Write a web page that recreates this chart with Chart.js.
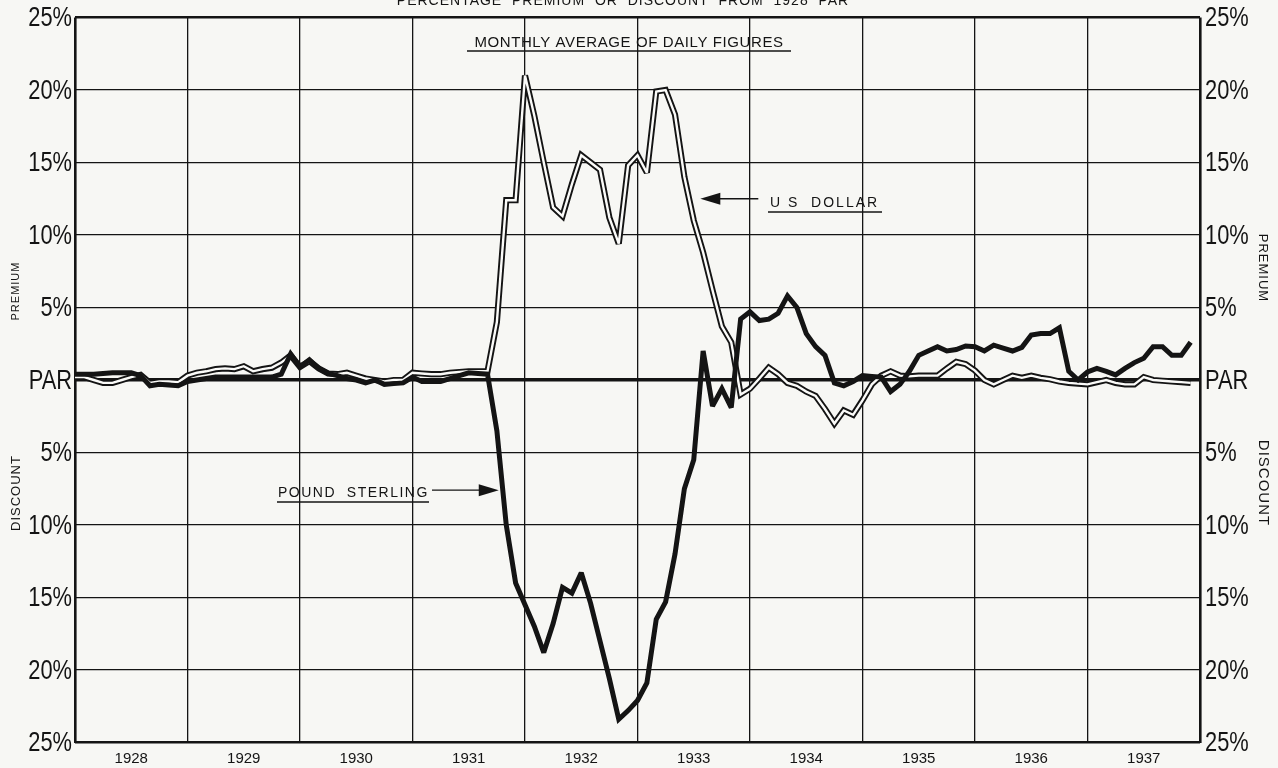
<!DOCTYPE html>
<html>
<head>
<meta charset="utf-8">
<script src="https://cdn.jsdelivr.net/npm/chart.js@4/dist/chart.umd.min.js"></script>
<style>
  html,body{margin:0;padding:0;background:#f7f7f4;}
  #wrap{position:relative;width:1278px;height:768px;}
</style>
</head>
<body>
<div id="wrap"><canvas id="c"></canvas></div>
<script>
// ---- DATA (monthly averages, Jan 1928 .. Dec 1937) ----
const years = ['1928','1929','1930','1931','1932','1933','1934','1935','1936','1937'];
const yTicks = [-25,-20,-15,-10,-5,0,5,10,15,20,25];

const poundSterling = [
  0.4, 0.4, 0.4, 0.45, 0.5, 0.5, 0.5, 0.3, -0.4, -0.3, -0.35, -0.4,
  -0.1, 0.0, 0.1, 0.2, 0.2, 0.2, 0.2, 0.2, 0.2, 0.2, 0.4, 1.8,
  0.9, 1.4, 0.8, 0.45, 0.3, 0.1, 0.0, -0.2, 0.0, -0.3, -0.25, -0.2,
  0.2, -0.1, -0.1, -0.1, 0.1, 0.3, 0.5, 0.45, 0.4, -3.5, -10.0, -14.0,
  -15.5, -17.0, -18.8, -16.8, -14.3, -14.7, -13.3, -15.4, -18.0, -20.6, -23.4, -22.8,
  -22.1, -20.9, -16.5, -15.3, -12.0, -7.5, -5.5, 2.0, -1.8, -0.6, -1.9, 4.2,
  4.7, 4.1, 4.2, 4.6, 5.8, 5.0, 3.2, 2.3, 1.7, -0.2, -0.4, -0.1,
  0.3, 0.25, 0.2, -0.8, -0.3, 0.6, 1.7, 2.0, 2.3, 2.0, 2.1, 2.35,
  2.3, 2.0, 2.4, 2.2, 2.0, 2.25, 3.1, 3.2, 3.2, 3.6, 0.6, 0.0,
  0.55, 0.8, 0.6, 0.35, 0.8, 1.2, 1.5, 2.3, 2.3, 1.7, 1.7, 2.6
];

const usDollar = [
  0.2, 0.2, 0.0, -0.2, -0.2, 0.0, 0.2, 0.35, -0.2, -0.1, -0.1, -0.15,
  0.3, 0.5, 0.6, 0.75, 0.8, 0.75, 0.95, 0.6, 0.75, 0.85, 1.2, 1.7,
  0.9, 1.3, 0.8, 0.45, 0.4, 0.5, 0.3, 0.1, 0.0, -0.1, 0.0, 0.0,
  0.5, 0.45, 0.4, 0.4, 0.5, 0.55, 0.6, 0.6, 0.6, 4.0, 12.4, 12.4,
  21.0, 18.2, 15.0, 11.9, 11.3, 13.5, 15.5, 15.0, 14.5, 11.2, 9.4, 14.8,
  15.5, 14.3, 19.9, 20.0, 18.3, 14.0, 11.0, 8.8, 6.2, 3.7, 2.6, -1.0,
  -0.6, 0.1, 0.85, 0.4, -0.2, -0.4, -0.8, -1.1, -2.0, -3.0, -2.1, -2.4,
  -1.4, -0.3, 0.3, 0.6, 0.3, 0.25, 0.3, 0.3, 0.3, 0.8, 1.25, 1.1,
  0.65, 0.0, -0.3, 0.0, 0.3, 0.15, 0.3, 0.15, 0.05, -0.1, -0.2, -0.25,
  -0.3, -0.15, 0.0, -0.2, -0.3, -0.3, 0.2, 0.0, -0.05, -0.1, -0.15, -0.2
];

// ---- STYLE ----
const BG = '#f7f7f4';
const INK = '#141414';
const SANS = '"Liberation Sans", "DejaVu Sans", Arial, sans-serif';

const toXY = arr => arr.map((v, i) => ({x: i, y: v}));
const yearCenters = years.map((y, k) => 6 + 12 * k);
const yLabel = v => (v === 0 ? 'PAR' : Math.abs(v) + '%');

const decor = {
  id: 'decor',
  beforeDraw(chart) {
    const c = chart.ctx;
    c.save();
    c.fillStyle = BG;
    c.fillRect(0, 0, chart.width, chart.height);
    c.restore();
  },
  beforeDatasetsDraw(chart) { chart.ctx.miterLimit = 2.6; },
  afterDatasetsDraw(chart) { chart.ctx.miterLimit = 10; },
  afterDraw(chart) {
    const c = chart.ctx;
    const xs = chart.scales.x, ys = chart.scales.y, ys2 = chart.scales.y2;
    c.save();
    c.fillStyle = INK;
    c.strokeStyle = INK;

    // condensed hand-lettered style axis labels
    const tickLabels = (scale, align, x) => {
      yTicks.forEach(v => {
        const y = scale.getPixelForValue(v);
        c.save(); c.translate(x, y + 1); c.scale(0.78, 1);
        c.textAlign = align; c.textBaseline = 'middle';
        c.font = '28px ' + SANS;
        c.fillText(yLabel(v), 0, 0);
        c.restore();
      });
    };
    tickLabels(ys, 'right', 72);
    tickLabels(ys2, 'left', 1205);

    // Title (cut at the top edge like the scan)
    c.font = '14px ' + SANS;
    c.letterSpacing = '1px';
    c.textAlign = 'center';
    c.textBaseline = 'alphabetic';
    c.fillText('PERCENTAGE  PREMIUM  OR  DISCOUNT  FROM  1928  PAR', 623, 5);

    // Subtitle, underlined
    c.font = '15px ' + SANS;
    c.letterSpacing = '0.6px';
    c.fillText('MONTHLY AVERAGE OF DAILY FIGURES', 629, 47);
    c.lineWidth = 1.6;
    c.beginPath(); c.moveTo(467, 51); c.lineTo(791, 51); c.stroke();

    // U S DOLLAR label + arrow
    c.textAlign = 'left';
    c.font = '14px ' + SANS;
    c.letterSpacing = '2px';
    c.fillText('U S  DOLLAR', 770, 207);
    c.beginPath(); c.moveTo(768, 212); c.lineTo(882, 212); c.stroke();
    let tx = xs.getPixelForValue(66.7), ty = ys.getPixelForValue(12.5);
    c.lineWidth = 1.3;
    c.beginPath(); c.moveTo(tx + 18, ty); c.lineTo(tx + 58, ty); c.stroke();
    c.beginPath(); c.moveTo(tx, ty); c.lineTo(tx + 20, ty - 6); c.lineTo(tx + 20, ty + 6); c.closePath(); c.fill();

    // POUND STERLING label + arrow
    c.font = '14px ' + SANS;
    c.letterSpacing = '1.5px';
    c.lineWidth = 1.6;
    c.fillText('POUND  STERLING', 278, 497);
    c.beginPath(); c.moveTo(277, 502); c.lineTo(429, 502); c.stroke();
    tx = xs.getPixelForValue(45.2); ty = ys.getPixelForValue(-7.6);
    c.lineWidth = 1.3;
    c.beginPath(); c.moveTo(432, ty); c.lineTo(tx - 18, ty); c.stroke();
    c.beginPath(); c.moveTo(tx, ty); c.lineTo(tx - 20, ty - 6); c.lineTo(tx - 20, ty + 6); c.closePath(); c.fill();

    // Side labels
    c.letterSpacing = '1px';
    c.textAlign = 'center';
    c.textBaseline = 'middle';
    const side = (txt, x, y, rot, size) => {
      c.save(); c.translate(x, y); c.rotate(rot);
      c.font = size + 'px ' + SANS; c.fillText(txt, 0, 0); c.restore();
    };
    side('PREMIUM', 16, 291, -Math.PI / 2, 11);
    side('DISCOUNT', 16, 493, -Math.PI / 2, 13);
    side('PREMIUM', 1263, 268, Math.PI / 2, 13);
    side('DISCOUNT', 1263, 483, Math.PI / 2, 15);
    c.restore();
  }
};

new Chart(document.getElementById('c'), {
  type: 'line',
  data: {
    datasets: [
      { label: 'Pound Sterling', data: toXY(poundSterling), borderColor: INK, borderWidth: 5,
        pointRadius: 0, tension: 0, borderJoinStyle: 'miter', order: 0 },
      { label: 'U S Dollar (inner)', data: toXY(usDollar), borderColor: '#fbfbf9', borderWidth: 2.4,
        pointRadius: 0, tension: 0, borderJoinStyle: 'miter', order: 1 },
      { label: 'U S Dollar', data: toXY(usDollar), borderColor: INK, borderWidth: 6.2,
        pointRadius: 0, tension: 0, borderJoinStyle: 'miter', order: 2 }
    ]
  },
  options: {
    responsive: true,
    maintainAspectRatio: false,
    animation: false,
    events: [],
    layout: { padding: { top: 17.5, left: 0, right: 0, bottom: 0 } },
    plugins: { legend: { display: false }, tooltip: { enabled: false }, title: { display: false } },
    scales: {
      x: {
        type: 'linear', position: 'bottom', min: 0, max: 120,
        ticks: { display: false, stepSize: 12 },
        afterBuildTicks: s => { s.ticks = years.concat(['']).map((y, k) => ({ value: 12 * k })); },
        grid: { color: INK, drawTicks: false,
          lineWidth: ctx => (ctx.tick && (ctx.tick.value === 0 || ctx.tick.value === 120) ? 2.6 : 1.3) },
        border: { display: false },
        afterFit: s => { s.height = 0; }
      },
      x2: {
        type: 'linear', position: 'bottom', min: 0, max: 120,
        afterBuildTicks: s => { s.ticks = yearCenters.map(v => ({ value: v })); },
        ticks: { color: INK, font: { family: SANS, size: 15 }, padding: 7, maxRotation: 0, autoSkip: false,
          callback: v => years[(v - 6) / 12] },
        grid: { display: false, drawTicks: false },
        border: { display: false },
        afterFit: s => { s.height = 25.5; }
      },
      y: {
        type: 'linear', position: 'left', min: -25, max: 25,
        afterBuildTicks: s => { s.ticks = yTicks.map(v => ({ value: v })); },
        ticks: { display: false },
        grid: { color: INK, drawTicks: false,
          lineWidth: ctx => (ctx.tick ? (ctx.tick.value === 0 ? 3.4 : (Math.abs(ctx.tick.value) === 25 ? 2.6 : 1.3)) : 1) },
        border: { display: false },
        afterFit: s => { s.width = 75; }
      },
      y2: {
        type: 'linear', position: 'right', min: -25, max: 25,
        afterBuildTicks: s => { s.ticks = yTicks.map(v => ({ value: v })); },
        ticks: { display: false },
        grid: { display: false, drawTicks: false },
        border: { display: false },
        afterFit: s => { s.width = 78; }
      }
    }
  },
  plugins: [decor]
});
</script>
</body>
</html>
